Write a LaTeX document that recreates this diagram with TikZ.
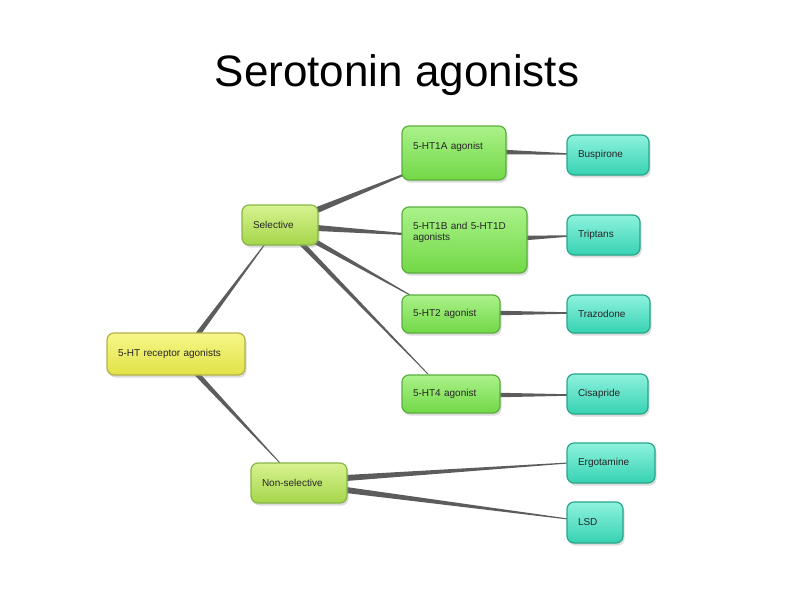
\documentclass[tikz,border=0pt]{standalone}
\usepackage{fontspec}
\setmainfont{Liberation Sans}
\usetikzlibrary{calc,shadows,backgrounds}
\definecolor{rootT}{HTML}{F6F68A}\definecolor{rootB}{HTML}{E2E246}\definecolor{rootE}{HTML}{B2B24A}
\definecolor{midT}{HTML}{D8F290}\definecolor{midB}{HTML}{A4D64A}\definecolor{midE}{HTML}{86B646}
\definecolor{grnT}{HTML}{AAF28A}\definecolor{grnB}{HTML}{72D846}\definecolor{grnE}{HTML}{5AAE3E}
\definecolor{tealT}{HTML}{8EF2DE}\definecolor{tealB}{HTML}{36D2B2}\definecolor{tealE}{HTML}{28A68A}
\definecolor{connC}{HTML}{5C5C5C}
\newcommand\taper[4]{\fill[conn] ($#1!#3*0.5pt!90:#2$) -- ($#2!#4*0.5pt!-90:#1$) -- ($#2!#4*0.5pt!90:#1$) -- ($#1!#3*0.5pt!-90:#2$) -- cycle;}
\tikzset{
  box/.style={rounded corners=7pt, draw, line width=1.2pt, inner xsep=11pt, inner ysep=2pt,
    align=left, font=\fontsize{10}{11.5}\selectfont, text=black!85,
    drop shadow={opacity=0.28, shadow xshift=1.5pt, shadow yshift=-2.5pt}},
  rootbox/.style={box, draw=rootE, top color=rootT, bottom color=rootB},
  midbox/.style={box, draw=midE, top color=midT, bottom color=midB},
  grnbox/.style={box, draw=grnE, top color=grnT, bottom color=grnB},
  tealbox/.style={box, draw=tealE, top color=tealT, bottom color=tealB},
  conn/.style={fill=connC},
}
\begin{document}
\begin{tikzpicture}[x=1pt,y=-1pt]
\useasboundingbox (0,0) rectangle (794,595);
\node[font=\fontsize{44}{50}\selectfont] (title) at (397,75) {Serotonin agonists};
% nodes
\node[rootbox, minimum width=138pt, minimum height=42pt, text width=116pt] (root) at (176,354) {5-HT receptor agonists};
\node[midbox, minimum width=76pt, minimum height=40pt, text width=54pt] (sel) at (280,225) {Selective};
\node[midbox, minimum width=96pt, minimum height=40pt, text width=74pt] (nonsel) at (299,483) {Non-selective};
\node[grnbox, minimum width=104pt, minimum height=54pt, text width=82pt, text depth=14pt] (a1) at (454,153) {5-HT1A agonist};
\node[grnbox, minimum width=125pt, minimum height=66pt, text width=103pt, text depth=28.6pt] (b1) at (464.5,240) {5-HT1B and 5-HT1D\\agonists};
\node[grnbox, minimum width=98pt, minimum height=38pt, text width=76pt] (h2) at (451,314) {5-HT2 agonist};
\node[grnbox, minimum width=98pt, minimum height=38pt, text width=76pt] (h4) at (451,394) {5-HT4 agonist};
\node[tealbox, minimum width=82pt, minimum height=40pt, text width=60pt] (busp) at (608,155) {Buspirone};
\node[tealbox, minimum width=73pt, minimum height=40pt, text width=51pt] (trip) at (603.5,235) {Triptans};
\node[tealbox, minimum width=83pt, minimum height=38pt, text width=61pt] (traz) at (608.5,314) {Trazodone};
\node[tealbox, minimum width=81pt, minimum height=40pt, text width=59pt] (cisa) at (607.5,394) {Cisapride};
\node[tealbox, minimum width=88pt, minimum height=40pt, text width=66pt] (ergo) at (611,463) {Ergotamine};
\node[tealbox, minimum width=56pt, minimum height=41pt, text width=34pt] (lsd) at (595,522.5) {LSD};
% connector end points on the nodes
\coordinate (rS) at ($(root)+(22,-20)$);   \coordinate (sR) at ($(sel)+(-15,19)$);
\coordinate (rN) at ($(root)+(21,20)$);    \coordinate (nR) at ($(nonsel)+(-19,-20)$);
\coordinate (sA) at ($(sel)+(37,-15)$);    \coordinate (aS) at ($(a1)+(-51,22)$);
\coordinate (sB) at ($(sel)+(37,3)$);      \coordinate (bS) at ($(b1)+(-61,-6)$);
\coordinate (s2) at ($(sel)+(36,17)$);     \coordinate (hS2) at ($(h2)+(-41,-19)$);
\coordinate (s4) at ($(sel)+(22,19)$);     \coordinate (hS4) at ($(h4)+(-23,-20)$);
\coordinate (aP) at ($(a1)+(50,-1)$);      \coordinate (pA) at ($(busp)+(-40,-1)$);
\coordinate (bT) at ($(b1)+(61,-2)$);      \coordinate (tB) at ($(trip)+(-35.5,1)$);
\coordinate (h2Z) at ($(h2)+(48,-1)$);     \coordinate (zH) at ($(traz)+(-40.5,-1)$);
\coordinate (h4C) at ($(h4)+(48,1)$);      \coordinate (cH) at ($(cisa)+(-39.5,1)$);
\coordinate (nE) at ($(nonsel)+(47,-5)$);  \coordinate (eN) at ($(ergo)+(-43,0)$);
\coordinate (nL) at ($(nonsel)+(47,7)$);   \coordinate (lN) at ($(lsd)+(-27,-3.5)$);
\begin{scope}[on background layer]
\taper{(rS)}{(sR)}{5}{1}
\taper{(rN)}{(nR)}{5}{0.8}
\taper{(sA)}{(aS)}{6}{2}
\taper{(sB)}{(bS)}{6}{2}
\taper{(s2)}{(hS2)}{5}{1}
\taper{(s4)}{(hS4)}{5}{0.8}
\taper{(aP)}{(pA)}{4.5}{1.5}
\taper{(bT)}{(tB)}{4.5}{1.5}
\taper{(h2Z)}{(zH)}{4.5}{1.5}
\taper{(h4C)}{(cH)}{4.5}{1.5}
\taper{(nE)}{(eN)}{6}{1}
\taper{(nL)}{(lN)}{6}{1}
\end{scope}
\end{tikzpicture}
\end{document}
